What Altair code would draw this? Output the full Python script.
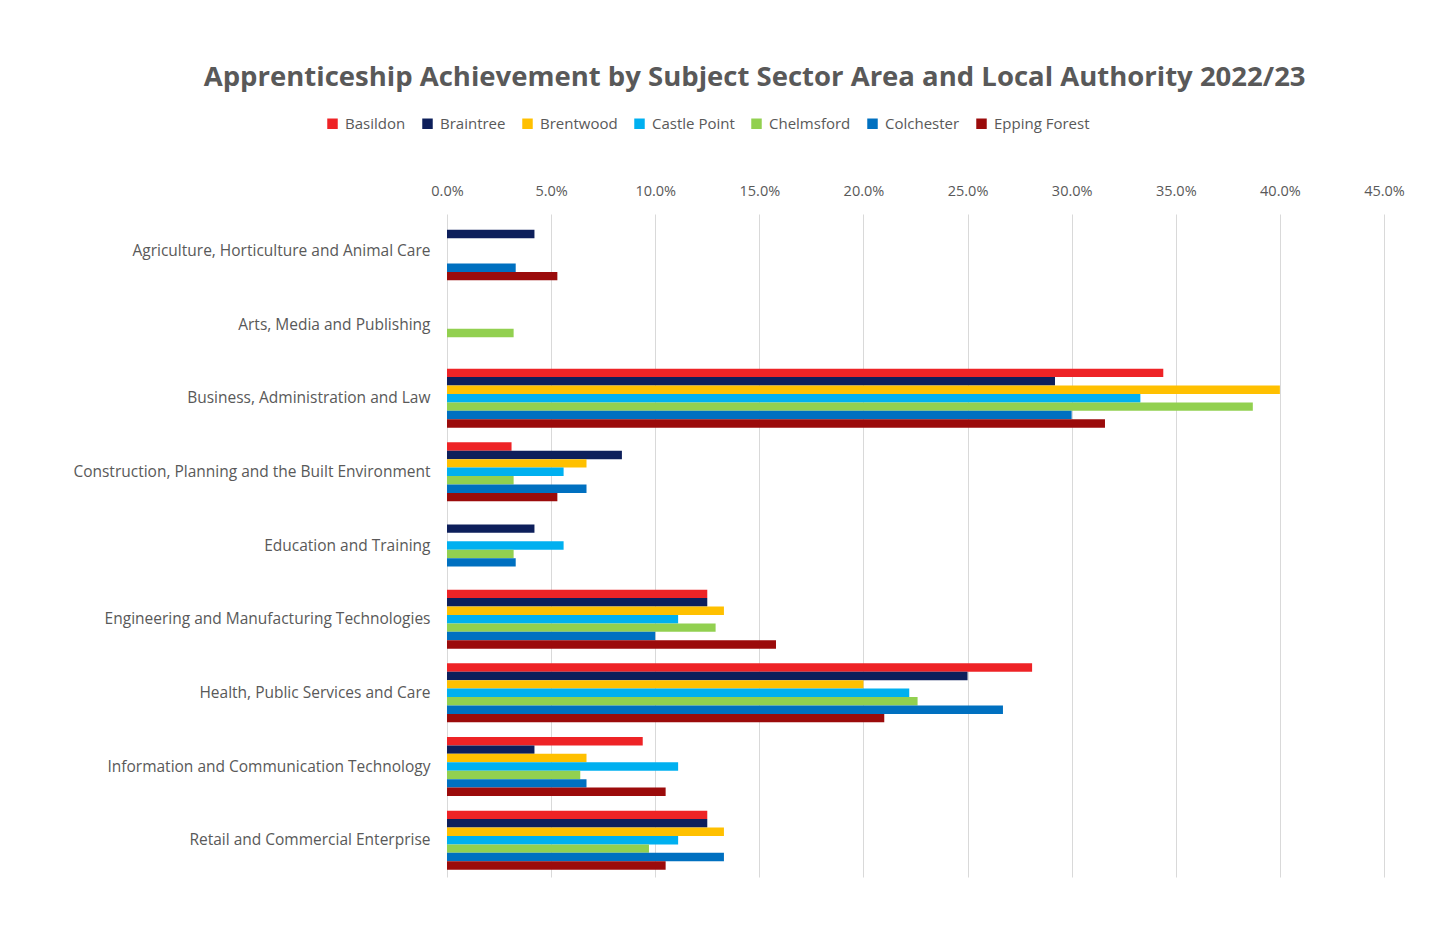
import altair as alt
import pandas as pd

categories = [
    "Agriculture, Horticulture and Animal Care",
    "Arts, Media and Publishing",
    "Business, Administration and Law",
    "Construction, Planning and the Built Environment",
    "Education and Training",
    "Engineering and Manufacturing Technologies",
    "Health, Public Services and Care",
    "Information and Communication Technology",
    "Retail and Commercial Enterprise",
]
authorities = ["Basildon", "Braintree", "Brentwood", "Castle Point",
               "Chelmsford", "Colchester", "Epping Forest"]
colors = ["#EE2326", "#0D1F5B", "#FFC000", "#00B0F0", "#92D050", "#0070C0", "#9B0B0B"]

# values in %, None = no bar
basildon     = [None, None, 34.4, 3.1, None, 12.5, 28.1, 9.4, 12.5]
braintree    = [4.2, None, 29.2, 8.4, 4.2, 12.5, 25.0, 4.2, 12.5]
brentwood    = [None, None, 40.0, 6.7, None, 13.3, 20.0, 6.7, 13.3]
castle_point = [None, None, 33.3, 5.6, 5.6, 11.1, 22.2, 11.1, 11.1]
chelmsford   = [None, 3.2, 38.7, 3.2, 3.2, 12.9, 22.6, 6.4, 9.7]
colchester   = [3.3, None, 30.0, 6.7, 3.3, 10.0, 26.7, 6.7, 13.3]
epping       = [5.3, None, 31.6, 5.3, None, 15.8, 21.0, 10.5, 10.5]

series = [basildon, braintree, brentwood, castle_point, chelmsford, colchester, epping]
rows = []
for name, vals in zip(authorities, series):
    for cat, v in zip(categories, vals):
        if v is not None:
            rows.append({"Sector": cat, "Authority": name, "Value": v / 100})
df = pd.DataFrame(rows)

FONT = "Open Sans"
GREY = "#595959"

chart = alt.Chart(df).mark_bar().encode(
    y=alt.Y("Sector:N", sort=categories, title=None,
            scale=alt.Scale(paddingInner=0.2, paddingOuter=0.1),
            axis=alt.Axis(labelFont=FONT, labelFontSize=15.5, labelColor=GREY,
                          ticks=False, domain=False, labelPadding=17,
                          labelLimit=500, minExtent=434, maxExtent=434)),
    yOffset=alt.YOffset("Authority:N", sort=authorities,
                        scale=alt.Scale(paddingInner=0, paddingOuter=0)),
    x=alt.X("Value:Q", title=None,
            scale=alt.Scale(domain=[0, 0.45], nice=False),
            axis=alt.Axis(orient="top", format=".1%", values=[i * 0.05 for i in range(10)],
                          labelFont=FONT, labelFontSize=14.5, labelColor=GREY,
                          labelFlush=False,
                          ticks=False, tickSize=0, domain=False, labelPadding=16,
                          grid=True, gridColor="#D9D9D9", gridWidth=1,
                          minExtent=32, maxExtent=32)),
    color=alt.Color("Authority:N", sort=authorities,
                    scale=alt.Scale(domain=authorities, range=colors),
                    legend=alt.Legend(orient="none", direction="horizontal",
                                      legendX=-122, legendY=-98, title=None,
                                      symbolType="square", symbolSize=110,
                                      symbolStrokeWidth=0,
                                      labelFont=FONT, labelFontSize=15, labelColor=GREY,
                                      columnPadding=14, labelOffset=5)),
).properties(
    width=937,
    height=663,
    padding={"top": 55, "left": 5, "right": 5, "bottom": 5},
    title=alt.Title("Apprenticeship Achievement by Subject Sector Area and Local Authority 2022/23",
                    font=FONT, fontSize=27.5, fontWeight="bold", color=GREY,
                    anchor="middle", frame="bounds", offset=25, dx=46),
).configure_view(stroke=None)

chart.save("out.html", embed_options={"renderer": "svg", "actions": False})
